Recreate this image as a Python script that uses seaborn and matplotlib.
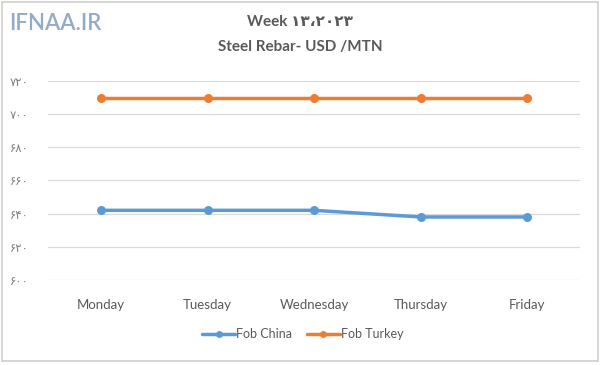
import pandas as pd
import matplotlib.pyplot as plt
import matplotlib.patches as mpatches
import seaborn as sns

days = ["Monday", "Tuesday", "Wednesday", "Thursday", "Friday"]
fob_china = [642, 642, 642, 638, 638]
fob_turkey = [710, 710, 710, 710, 710]
y_ticks = [600, 620, 640, 660, 680, 700, 720]
y_tick_labels = ["۶۰۰", "۶۲۰", "۶۴۰", "۶۶۰", "۶۸۰", "۷۰۰", "۷۲۰"]

df = pd.DataFrame({
    "Day": days * 2,
    "Price": fob_china + fob_turkey,
    "Series": ["Fob China"] * len(days) + ["Fob Turkey"] * len(days),
})

sns.set_theme(style="white")
plt.rcParams["font.family"] = ["Lato", "DejaVu Sans"]

fig = plt.figure(figsize=(6, 3.65), dpi=100)
ax = fig.add_axes([0.08, 0.233, 0.887, 0.545])

palette = {"Fob China": "#5B9BD5", "Fob Turkey": "#ED7D31"}
sns.lineplot(data=df, x="Day", y="Price", hue="Series", palette=palette,
             marker="o", markersize=6.5, markeredgewidth=0, linewidth=2.5,
             sort=False, ax=ax, legend=False)

ax.set_xlim(-0.5, len(days) - 0.5)
ax.set_ylim(600, 720)
ax.set_yticks(y_ticks)
ax.set_yticklabels(y_tick_labels, family=["DejaVu Sans"], fontsize=8.5, color="#7f7f7f")
ax.tick_params(axis="x", labelsize=9.5, colors="#595959", pad=8)
ax.tick_params(axis="y", pad=14, length=0)
ax.grid(axis="y", color="#d9d9d9", linewidth=0.9)
ax.set_axisbelow(True)
for s in ax.spines.values():
    s.set_visible(False)
ax.set_xlabel("")
ax.set_ylabel("")

handles = [plt.Line2D([], [], color=palette[k], marker="o", markersize=5,
                      linewidth=2.5, markeredgewidth=0) for k in palette]
fig.legend(handles, list(palette), loc="center", bbox_to_anchor=(0.505, 0.085),
           ncol=2, frameon=False, fontsize=9, handlelength=2.6,
           handletextpad=0.1, columnspacing=1.2, labelcolor="#595959")

fig.text(0.5, 0.94, "Week ۱۳،۲۰۲۳", ha="center", va="center",
         fontsize=11, fontweight="bold", color="#595959",
         family=["Lato", "DejaVu Sans"])
fig.text(0.5, 0.872, "Steel Rebar- USD /MTN", ha="center", va="center",
         fontsize=11, fontweight="bold", color="#595959")
fig.text(0.016, 0.935, "IFNAA.IR", ha="left", va="center", fontsize=16,
         fontweight="semibold", color="#7896bc", alpha=0.8)

fig.patches.append(mpatches.Rectangle((0.004, 0.01), 0.992, 0.985,
                                      transform=fig.transFigure, fill=False,
                                      edgecolor="#d0d0d0", linewidth=1.2))

fig.savefig("out.png", dpi=100)
